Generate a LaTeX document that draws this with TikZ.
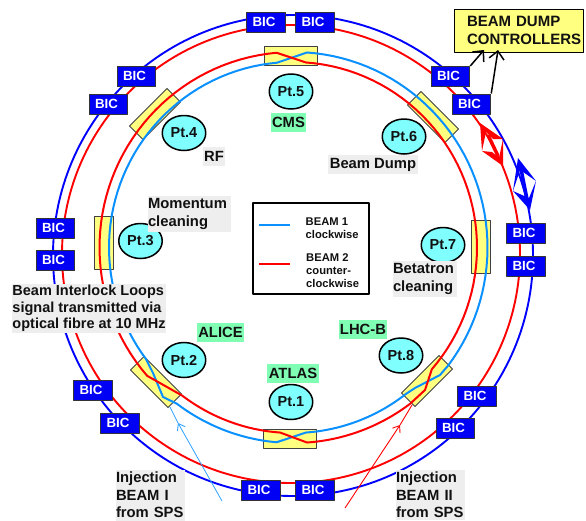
\documentclass[tikz,border=0pt]{standalone}
\usepackage{fontspec}
\setmainfont{Liberation Sans}
\usetikzlibrary{arrows.meta,shapes.geometric}
\definecolor{beamA}{HTML}{0A90FF}
\definecolor{ptfill}{HTML}{80FFFF}
\definecolor{boxfill}{HTML}{FFFF80}
\definecolor{labgray}{HTML}{EEEEEE}
\definecolor{labgreen}{HTML}{80FFB4}
\definecolor{txt}{HTML}{111111}
\newcommand\bictext{\raisebox{1pt}{\hspace*{-4pt}BIC}}
\tikzset{
  bic/.style={draw=black!80,line width=1pt,fill={rgb,255:red,0;green,0;blue,245},text=white,font=\fontsize{13.3}{15}\selectfont\bfseries,minimum width=38.5pt,minimum height=20pt,inner sep=0pt},
  pt/.style={ellipse,draw=black,line width=1.5pt,fill=ptfill,text=txt,font=\fontsize{14.5}{16}\selectfont\bfseries,minimum width=43.5pt,minimum height=35pt,inner sep=0pt},
  ip/.style={draw=black!75,line width=0.9pt,fill=boxfill,minimum width=53pt,minimum height=19pt,inner sep=0pt},
  lab/.style={fill=labgray,text=txt,font=\fontsize{14.8}{17.4}\selectfont\bfseries,align=left,inner sep=0pt},
  exp/.style={fill=labgreen,text=txt,font=\fontsize{14.8}{17}\selectfont\bfseries,inner sep=0pt},
  legt/.style={text=txt,font=\fontsize{11.2}{13}\selectfont\bfseries,align=left,inner sep=0pt,anchor=west},
  ctl/.style={black,line width=1.5pt,-{Straight Barb[length=8pt,width=15pt,line width=1.5pt]}},
  declare function={ix(\t)=293+184*cos(\t);iy(\t)=247.5-185.5*sin(\t);ox(\t)=293.5+194*cos(\t);oy(\t)=247.5-195.5*sin(\t);}
}
\begin{document}
\begin{tikzpicture}[x=1pt,y=-1pt,samples=48,line join=round]
\useasboundingbox (0,0) rectangle (586,520);
% insertion boxes
\node[ip] (b5) at (290.5,56) {};
\node[ip,rotate=-45] (b6) at (433,117) {};
\node[ip,rotate=90] (b7) at (480.5,247) {};
\node[ip,rotate=45] (b8) at (427,381) {};
\node[ip] (b1) at (289.5,438.5) {};
\node[ip,rotate=-45] (b2) at (156,382) {};
\node[ip,rotate=90] (b3) at (103.5,243) {};
\node[ip,rotate=45] (b4) at (155,114) {};
% outer rings
\draw[blue,line width=1.9pt] (293,255.5) ellipse [x radius=240pt,y radius=240.5pt];
\draw[red,line width=1.9pt] (291,254) ellipse [x radius=229pt,y radius=229pt];
% inner rings
\draw[beamA,line width=2pt]
  plot[domain=86:-37] ({ox(\x)},{oy(\x)})
  -- (440,375) -- (415,388)
  -- plot[domain=-52:-86] ({ix(\x)},{iy(\x)})
  -- plot[domain=-95:-127] ({ox(\x)},{oy(\x)})
  -- (163,397) -- (153,373)
  -- plot[domain=-143:-265] ({ix(\x)},{iy(\x)})
  -- cycle;
\draw[red,line width=2pt]
  plot[domain=86:-41] ({ix(\x)},{iy(\x)})
  -- (425,390)
  -- plot[domain=-53:-86] ({ox(\x)},{oy(\x)})
  -- plot[domain=-94:-127] ({ix(\x)},{iy(\x)})
  -- plot[domain=-139:-265] ({ox(\x)},{oy(\x)})
  -- cycle;
% BIC
\node[bic] (bicT1) at (266,22) {\bictext};
\node[bic] (bicT2) at (315,22) {\bictext};
\node[bic] (bicNE1) at (450.5,76.5) {\bictext};
\node[bic] (bicNE2) at (471.5,104) {\bictext};
\node[bic] (bicE1) at (526,233.5) {\bictext};
\node[bic] (bicE2) at (526,266) {\bictext};
\node[bic] (bicSE1) at (477,396) {\bictext};
\node[bic] (bicSE2) at (455.5,428) {\bictext};
\node[bic] (bicB1) at (261,490) {\bictext};
\node[bic] (bicB2) at (315,490) {\bictext};
\node[bic] (bicSW1) at (93,390.5) {\bictext};
\node[bic] (bicSW2) at (120,423) {\bictext};
\node[bic] (bicW1) at (55.5,228) {\bictext};
\node[bic] (bicW2) at (55.5,260.5) {\bictext};
\node[bic] (bicNW1) at (136.5,76.5) {\bictext};
\node[bic] (bicNW2) at (108.5,104) {\bictext};
% points
\node[pt] (p1) at (291,402) {Pt.1};
\node[pt] (p2) at (184,360) {Pt.2};
\node[pt] (p3) at (140.5,241) {Pt.3};
\node[pt] (p4) at (184,133) {Pt.4};
\node[pt] (p5) at (291,91.5) {Pt.5};
\node[pt] (p6) at (404,136.5) {Pt.6};
\node[pt] (p7) at (443,245) {Pt.7};
\node[pt] (p8) at (401,355.5) {Pt.8};
% labels
\node[exp,minimum width=35pt,minimum height=19pt] (cms) at (288.5,122.5) {CMS};
\node[exp,minimum width=52pt,minimum height=19pt] (atlas) at (293,373.5) {ATLAS};
\node[exp,minimum width=47pt,minimum height=19pt] (alice) at (220.5,332) {ALICE};
\node[exp,minimum width=48pt,minimum height=19pt] (lhcb) at (363,329.5) {LHC-B};
\node[lab,minimum width=22pt,minimum height=19pt,align=center] (rf) at (214,156.5) {RF};
\node[lab,minimum width=90pt,minimum height=19pt,align=center] (bd) at (373,164.5) {Beam Dump};
\node[lab,text width=83pt,minimum height=36pt] (mom) at (189.5,214) {Momentum\\cleaning};
\node[lab,text width=64pt,minimum height=36pt] (bet) at (425,279) {Betatron\\cleaning};
\node[lab,minimum width=152pt,minimum height=49pt,font=\fontsize{14.5}{16.6}\selectfont\bfseries] (loops) at (89,308.5) {Beam Interlock Loops\\signal transmitted via\\optical fibre at 10 MHz};
\node[lab,text width=69pt,minimum height=51pt] (inj1) at (150.5,495) {Injection\\BEAM I\\from SPS};
\node[lab,text width=69pt,minimum height=50pt] (inj2) at (430.5,495) {Injection\\BEAM II\\from SPS};
% dump box
\node[draw=black,line width=1pt,fill=boxfill,text=txt,minimum width=129pt,minimum height=43pt,text width=127pt,inner sep=1pt,align=left,font=\fontsize{15}{18}\selectfont\bfseries] (dump) at (518.5,30.5) {\hspace*{12pt}BEAM DUMP\\\hspace*{12pt}CONTROLLERS};
% legend
\node[draw=black,line width=1.3pt,fill=white,minimum width=116pt,minimum height=91pt,inner sep=0pt] (leg) at (311,248.5) {};
\coordinate (lb1) at (259,225); \coordinate (lb2) at (290,225);
\coordinate (lr1) at (259,264); \coordinate (lr2) at (290,264);
\draw[beamA,line width=1.7pt] (lb1) -- (lb2);
\draw[red,line width=1.7pt] (lr1) -- (lr2);
\node[legt] (l1) at (305.5,228.5) {BEAM 1\\clockwise};
\node[legt] (l2) at (306,271) {BEAM 2\\counter-\\clockwise};
% controller arrows
\coordinate (d1) at (484,50); \coordinate (d2) at (498,50);
\draw[ctl] (bicNE1.north east) -- (d1);
\draw[ctl] (bicNE2.north east) -- (d2);
% injection arrows
\coordinate (ia) at (222,501); \coordinate (im) at (178,423); \coordinate (ib) at (170,407);
\draw[beamA!85!white,line width=0.8pt,-{Straight Barb[length=6pt,width=9pt,line width=0.9pt]}] (ia) -- (im);
\draw[beamA!85!white,line width=0.8pt] (im) -- (ib);
\coordinate (ja) at (345,508); \coordinate (jm) at (400,425); \coordinate (jb) at (412,405);
\draw[red,line width=0.9pt,-{Straight Barb[length=6pt,width=9pt,line width=0.9pt]}] (ja) -- (jm);
\draw[red,line width=0.9pt] (jm) -- (jb);
% double arrows between the beams
\fill[red] (480,123) -- (503,139) -- (493,139) -- (486,132) -- (482,151) -- cycle;
\fill[red] (503,166) -- (482,151) -- (492,152) -- (499,158) -- (503,139) -- cycle;
\draw[red,line width=3.5pt] (488,135) -- (498,156);
\fill[blue] (518,158) -- (536,181) -- (526,174) -- (520,170) -- (513,191) -- cycle;
\fill[blue] (530,210) -- (513,191) -- (522,195) -- (529,198) -- (536,181) -- cycle;
\draw[blue,line width=3.5pt] (521,169) -- (527,199);
\end{tikzpicture}
\end{document}
